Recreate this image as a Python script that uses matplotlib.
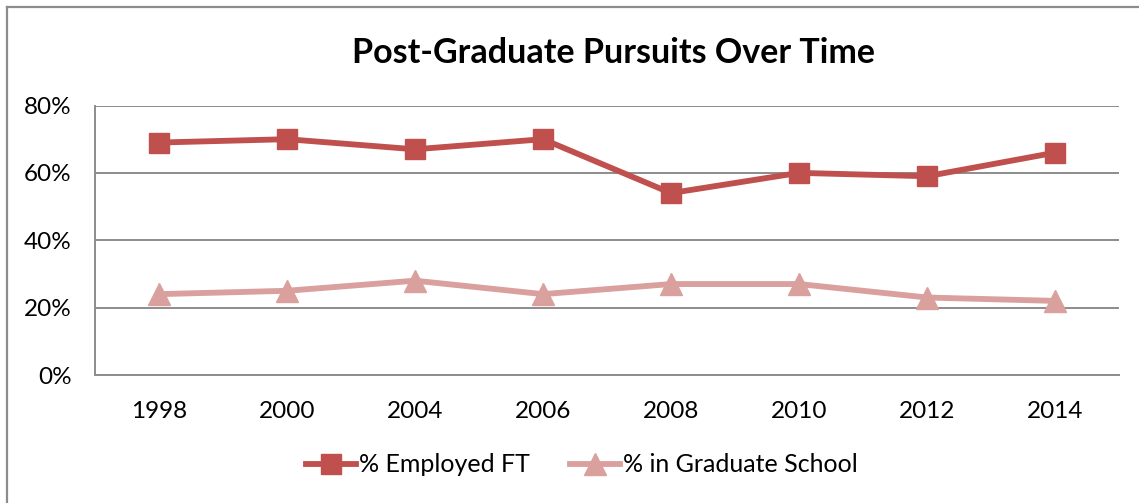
import matplotlib
matplotlib.use("Agg")
import matplotlib.pyplot as plt
from matplotlib.lines import Line2D

years = ["1998", "2000", "2004", "2006", "2008", "2010", "2012", "2014"]
employed_ft = [69, 70, 67, 70, 54, 60, 59, 66]
grad_school = [24, 25, 28, 24, 27, 27, 23, 22]
y_ticks = [0, 20, 40, 60, 80]
y_tick_labels = ["0%", "20%", "40%", "60%", "80%"]

plt.rcParams['font.family'] = ['Lato', 'DejaVu Sans']

W, H = 1139, 503
fig = plt.figure(figsize=(W / 100, H / 100), dpi=100)
fig.patch.set_facecolor("white")

ax = fig.add_axes([95 / W, (H - 375) / H, (1119 - 95) / W, (375 - 105.5) / H])

x = list(range(len(years)))
red = "#C0504D"
pink = "#D9A09E"
ax.plot(x, employed_ft, color=red, lw=4.2, marker="s", ms=14.5, mec=red, mfc=red,
        label="% Employed FT", zorder=4)
ax.plot(x, grad_school, color=pink, lw=4.2, marker="^", ms=15.5, mec=pink, mfc=pink,
        label="% in Graduate School", zorder=3)

ax.set_xlim(-0.5, len(years) - 0.5)
ax.set_ylim(0, 80)
ax.set_yticks(y_ticks)
ax.set_yticklabels(y_tick_labels)
ax.set_xticks(x)
ax.set_xticklabels(years)
ax.tick_params(axis="both", length=0, labelsize=17.5, colors="black")
ax.tick_params(axis="y", pad=17)
ax.tick_params(axis="x", pad=19)
ax.yaxis.grid(True, color="#8c8c8c", lw=1.4)
ax.set_axisbelow(True)
for s in ["top", "right"]:
    ax.spines[s].set_visible(False)
ax.spines["left"].set_color("#8c8c8c")
ax.spines["left"].set_linewidth(1.4)
ax.spines["bottom"].set_color("#8c8c8c")
ax.spines["bottom"].set_linewidth(1.4)

fig.text(613 / W, 1 - 53 / H, "Post-Graduate Pursuits Over Time", ha="center", va="center",
         fontsize=24.5, fontweight="bold")

fig.legend(loc="center", bbox_to_anchor=(582 / W, 1 - 465 / H), ncol=2, frameon=False,
           fontsize=18, handlelength=2.0, handletextpad=0.12, columnspacing=1.6)

# outer chart border (left and top visible)
fig.add_artist(Line2D([7 / W, 7 / W], [0, 1 - 7 / H], color="#8c8c8c", lw=1.6))
fig.add_artist(Line2D([7 / W, 1], [1 - 7 / H, 1 - 7 / H], color="#8c8c8c", lw=1.6))

fig.savefig("out.png", dpi=100, facecolor="white")
